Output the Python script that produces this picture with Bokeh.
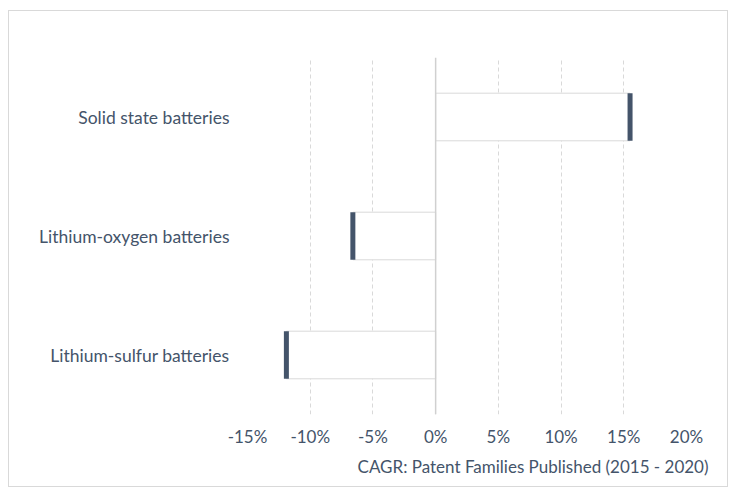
from bokeh.plotting import figure
from bokeh.models import FactorRange, Range1d, FixedTicker, NumeralTickFormatter, Span, Title, ColumnDataSource
from bokeh.embed import file_html
from bokeh.resources import INLINE

categories = ["Solid state batteries", "Lithium-oxygen batteries", "Lithium-sulfur batteries"]
cagr = [0.155, -0.066, -0.119]
tick_values = [-0.15, -0.10, -0.05, 0.0, 0.05, 0.10, 0.15, 0.20]
axis_title = "CAGR: Patent Families Published (2015 - 2020)"

TEXT = "#44546A"
FONT = "Lato"
FS = "17px"

src = ColumnDataSource(dict(cat=categories, val=cagr))

p = figure(
    width=720, height=477,
    y_range=FactorRange(factors=categories[::-1]),
    x_range=Range1d(-0.15, 0.20),
    output_backend="svg", toolbar_location=None,
    min_border_left=238, min_border_right=43, min_border_top=46, min_border_bottom=74,
)
p.styles = {"border": "1px solid #D9D9D9", "margin-left": "8px", "margin-top": "10px"}
p.outline_line_color = None
p.background_fill_color = "white"
p.border_fill_color = "white"

p.hbar(y="cat", left=0, right="val", height=0.4, source=src,
       fill_color="white", line_color="#D9D9D9", line_width=1)
p.rect(x="val", y="cat", width=5, width_units="screen", height=0.4, source=src,
       fill_color=TEXT, line_color=None)

p.add_layout(Span(location=0, dimension="height", line_color="#D0D0D0", line_width=1.5))

p.xgrid.grid_line_color = "#D9D9D9"
p.xgrid.grid_line_dash = "4 3"
p.xgrid.grid_line_width = 1
p.ygrid.grid_line_color = None

p.xaxis.ticker = FixedTicker(ticks=tick_values)
p.xaxis.formatter = NumeralTickFormatter(format="0%")
for ax in (p.xaxis, p.yaxis):
    ax.axis_line_color = None
    ax.major_tick_line_color = None
    ax.minor_tick_line_color = None
    ax.major_tick_out = 0
    ax.major_tick_in = 0
    ax.minor_tick_out = 0
    ax.major_label_text_font = FONT
    ax.major_label_text_font_size = FS
    ax.major_label_text_color = TEXT
p.yaxis.major_label_text_font_size = "17.5px"
p.xaxis.major_label_standoff = 11
p.yaxis.major_label_standoff = 18

t = Title(text=axis_title, align="right", offset=-22, text_font=FONT,
          text_font_size=FS, text_font_style="normal", text_color=TEXT, standoff=8)
p.add_layout(t, "below")

open("out.html", "w").write(file_html(p, INLINE))
